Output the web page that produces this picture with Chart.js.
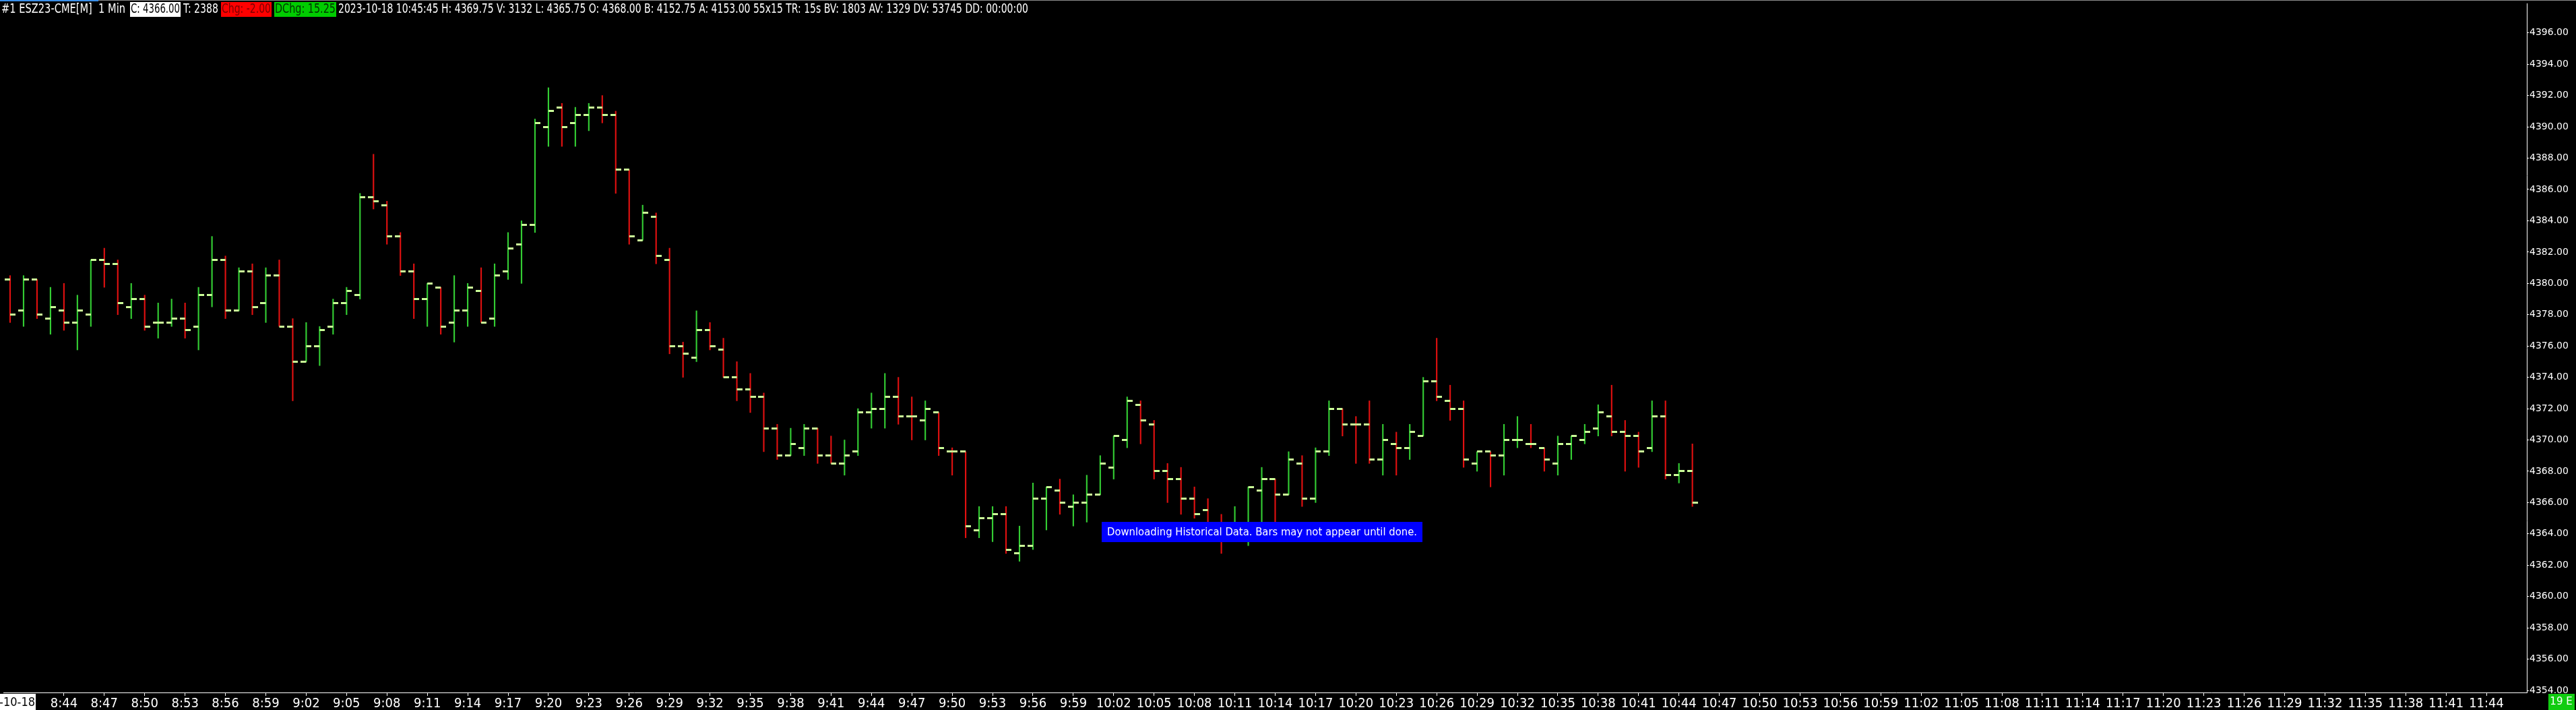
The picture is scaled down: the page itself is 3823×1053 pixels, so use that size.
<!DOCTYPE html>
<html>
<head>
<meta charset="utf-8">
<script src="https://cdn.jsdelivr.net/npm/chart.js@4.4.0/dist/chart.umd.min.js"></script>
<style>
html, body { margin: 0; padding: 0; background: #000; overflow: hidden; }
</style>
</head>
<body>
<canvas id="price-chart" width="3823" height="1053"></canvas>
<script>
// ESZ23-CME 1 min bars, 2023-10-18
var times = ['8:40','8:41','8:42','8:43','8:44','8:45','8:46','8:47','8:48','8:49',
  '8:50','8:51','8:52','8:53','8:54','8:55','8:56','8:57','8:58','8:59',
  '9:00','9:01','9:02','9:03','9:04','9:05','9:06','9:07','9:08','9:09',
  '9:10','9:11','9:12','9:13','9:14','9:15','9:16','9:17','9:18','9:19',
  '9:20','9:21','9:22','9:23','9:24','9:25','9:26','9:27','9:28','9:29',
  '9:30','9:31','9:32','9:33','9:34','9:35','9:36','9:37','9:38','9:39',
  '9:40','9:41','9:42','9:43','9:44','9:45','9:46','9:47','9:48','9:49',
  '9:50','9:51','9:52','9:53','9:54','9:55','9:56','9:57','9:58','9:59',
  '10:00','10:01','10:02','10:03','10:04','10:05','10:06','10:07','10:08','10:09',
  '10:10','10:11','10:12','10:13','10:14','10:15','10:16','10:17','10:18','10:19',
  '10:20','10:21','10:22','10:23','10:24','10:25','10:26','10:27','10:28','10:29',
  '10:30','10:31','10:32','10:33','10:34','10:35','10:36','10:37','10:38','10:39',
  '10:40','10:41','10:42','10:43','10:44','10:45'];

var open = [4380.25,4378.25,4380.25,4377.75,4378.25,4377.5,4378,4381.5,4381.25,4378.5,
  4379,4377.5,4377.5,4377.75,4377.25,4379.25,4381.5,4378.25,4380.75,4378.75,
  4380.5,4377.25,4375,4376,4377.25,4378.75,4379.25,4385.5,4385,4383,
  4380.75,4379,4379.75,4377.5,4378.25,4379.5,4377.75,4380.75,4382.5,4383.75,
  4390,4391.25,4390.25,4390.75,4391.25,4390.75,4387.25,4382.75,4384.25,4381.5,
  4376,4375.25,4377,4375.75,4374,4373.25,4372.75,4370.75,4369,4369.5,
  4370.75,4369,4368.5,4369.25,4371.75,4372,4372.75,4371.5,4371.25,4371.75,
  4369.25,4369.25,4364.25,4365,4365.25,4362.75,4363.25,4366.25,4366.75,4365.75,
  4366,4366.5,4368.25,4370,4372.25,4371,4368,4367.5,4366.25,4365.5,
  4364.25,4363.75,4364.5,4366.75,4367.5,4366.5,4368.5,4366.25,4369.25,4372,
  4371,4371,4368.75,4369.75,4369.5,4370.25,4373.75,4372.5,4372,4368.5,
  4369.25,4369,4370,4369.75,4369.5,4368.5,4369.75,4370,4370.75,4371.5,
  4370.5,4370.25,4369.5,4371.5,4367.75,4368];
var high = [4380.5,4380.5,4380.25,4379.75,4380,4379.25,4381.5,4382.25,4381.5,4380,
  4379.25,4378.75,4379,4378.75,4379.75,4383,4381.75,4381,4381.25,4381,
  4381.5,4377.75,4377.5,4377.25,4379,4379.75,4385.75,4388.25,4385.25,4383.25,
  4381.25,4380,4379.75,4380.5,4380,4381,4381.25,4383.25,4384,4390.5,
  4392.5,4391.5,4391.25,4391.5,4392,4391,4387.25,4385,4384.5,4382.25,
  4376.25,4378.25,4377.5,4376.5,4375,4374.25,4373,4371,4370.75,4371,
  4370.75,4370.25,4370,4372,4373,4374.25,4374,4372.75,4372.5,4371.75,
  4369.5,4369.25,4365.75,4365.75,4365.75,4364.5,4367.25,4367,4367.5,4366.5,
  4367.75,4369,4370.25,4372.75,4372.5,4371.25,4368.5,4368.25,4367,4366.25,
  4365.25,4365.75,4367,4368.25,4367.5,4369.25,4369,4369.5,4372.5,4372,
  4371.5,4372.5,4371,4370.5,4371,4374,4376.5,4373.5,4372.5,4369.25,
  4369.25,4371,4371.5,4371,4369.5,4370.25,4370.25,4371,4372.25,4373.5,
  4371.25,4370.5,4372.5,4372.5,4368.5,4369.75];
var low = [4377.5,4377.25,4377.75,4376.75,4377,4375.75,4377.25,4379.75,4378,4377.75,
  4377,4376.5,4377.25,4376.5,4375.75,4378.5,4377.75,4378.25,4378,4377.5,
  4377.25,4372.5,4375,4374.75,4376.75,4378,4379,4384.75,4382.5,4380.5,
  4377.75,4377.25,4376.75,4376.25,4377.25,4377.5,4377.25,4380.25,4380,4383.25,
  4388.75,4388.75,4388.75,4389.75,4390.25,4385.75,4382.5,4382.75,4381.25,4375.5,
  4374,4375,4375.75,4374,4372.5,4371.75,4369.25,4368.75,4369,4369,
  4368.5,4368.5,4367.75,4369,4370.75,4370.75,4371,4370,4370,4369,
  4367.75,4363.75,4363.75,4363.5,4362.75,4362.25,4363,4364.25,4365.25,4364.5,
  4364.75,4366.5,4367.5,4369.5,4369.75,4367.5,4366,4365.25,4365,4363.75,
  4362.75,4363.5,4363.25,4364.5,4364.75,4366.5,4365.75,4366,4369,4370.25,
  4368.5,4368.5,4367.75,4367.75,4368.75,4370.25,4372.5,4371.25,4368.25,4368,
  4367,4367.75,4369.5,4369.5,4368,4367.75,4368.75,4369.75,4370.25,4370.25,
  4368,4368.25,4369.25,4367.5,4367.25,4365.75];
var close = [4378,4380.25,4378,4378.5,4377.5,4378.25,4381.5,4381.25,4378.75,4379,
  4377.25,4377.5,4377.75,4377,4379.25,4381.5,4378.25,4380.75,4378.5,4380.5,
  4377.25,4375,4376,4377,4378.75,4379.5,4385.5,4385.25,4383,4380.75,
  4379,4380,4377.25,4378.25,4379.75,4377.5,4380.5,4382.25,4383.75,4390.25,
  4391,4390,4390.75,4391.25,4390.75,4387.25,4383,4384.5,4381.75,4376,
  4375.5,4377,4376,4374,4373.25,4372.75,4370.75,4369,4369.75,4370.75,
  4369,4368.5,4369,4371.75,4372,4372.75,4371.5,4371.5,4372,4369.5,
  4369.25,4364.5,4365,4365.25,4363,4363.25,4366.25,4367,4366,4366,
  4366.5,4368.5,4370.25,4372.5,4371.25,4368,4367.5,4366.25,4365.25,4364,
  4363.75,4364.5,4367,4367.5,4366.5,4368.75,4366.25,4369.25,4372,4371,
  4371,4368.75,4370,4369.5,4370.5,4373.75,4372.75,4372,4368.75,4369.25,
  4369,4370,4370,4369.75,4368.75,4369.75,4370.25,4370.5,4371.75,4370.5,
  4370.25,4369.25,4371.5,4367.75,4368,4366];

var tickLabels = ['8:44','8:47','8:50','8:53','8:56','8:59','9:02','9:05','9:08','9:11',
  '9:14','9:17','9:20','9:23','9:26','9:29','9:32','9:35','9:38','9:41',
  '9:44','9:47','9:50','9:53','9:56','9:59','10:02','10:05','10:08','10:11',
  '10:14','10:17','10:20','10:23','10:26','10:29','10:32','10:35','10:38','10:41',
  '10:44','10:47','10:50','10:53','10:56','10:59','11:02','11:05','11:08','11:11',
  '11:14','11:17','11:20','11:23','11:26','11:29','11:32','11:35','11:38','11:41','11:44'];

var UP = '#33cc33', DOWN = '#e01010', TICK = '#ccff99';
var narrow = "'Liberation Sans Narrow', 'DejaVu Sans Condensed', 'Arial Narrow', sans-serif";

function minuteIndex(t) {
    var p = t.split(':');
    return (+p[0]) * 60 + (+p[1]) - (8 * 60 + 40);
}

// bar colour: close vs open, ties fall back to previous close / previous colour
var colors = [];
for (var i = 0; i < times.length; i++) {
    var c;
    if (close[i] > open[i]) c = UP;
    else if (close[i] < open[i]) c = DOWN;
    else if (i > 0 && close[i] > close[i - 1]) c = UP;
    else if (i > 0 && close[i] < close[i - 1]) c = DOWN;
    else c = i > 0 ? colors[i - 1] : UP;
    colors.push(c);
}

function tickImage(side) {
    var cv = document.createElement('canvas');
    cv.width = 16; cv.height = 3;
    var g = cv.getContext('2d');
    g.fillStyle = TICK;
    g.fillRect(side === 'left' ? 0 : 8, 0, 8, 3);
    return cv;
}

var bgPlugin = {
    id: 'bg',
    beforeDraw: function (chart) {
        var ctx = chart.ctx;
        ctx.save();
        ctx.fillStyle = '#000';
        ctx.fillRect(0, 0, chart.width, chart.height);
        ctx.restore();
    },
    afterDraw: function (chart) {
        var ctx = chart.ctx;
        ctx.save();
        // top strip
        ctx.fillStyle = '#8c8c8c';
        ctx.fillRect(0, 0, chart.width, 1);
        ctx.fillStyle = '#3b8fe8';
        ctx.fillRect(0, 0, 146, 2);

        // header line
        ctx.font = '19px ' + narrow;
        ctx.textBaseline = 'middle';
        var ty = 14;
        function seg(text, x, w, bg, fg) {
            if (bg) { ctx.fillStyle = bg; ctx.fillRect(x, 3, w, 22); }
            ctx.fillStyle = fg;
            ctx.fillText(text, x + 1, ty, w - 2);
        }
        seg('#1 ESZ23-CME[M]  1 Min', 1, 186, null, '#fff');
        seg('C: 4366.00', 193, 75, '#fff', '#000');
        seg('T: 2388', 271, 54, null, '#fff');
        seg('Chg: -2.00', 328, 75, '#ff0000', '#7a0000');
        seg('DChg: 15.25', 407, 92, '#00cc00', '#003300');
        seg('2023-10-18 10:45:45 H: 4369.75 V: 3132 L: 4365.75 O: 4368.00 B: 4152.75 A: 4153.00 55x15 TR: 15s BV: 1803 AV: 1329 DV: 53745 DD: 00:00:00',
            501, 1026, null, '#fff');

        // date stamp at the left end of the time axis
        var b = chart.chartArea.bottom;
        ctx.fillStyle = '#fff';
        ctx.fillRect(0, b + 2, 53, chart.height - b - 2);
        ctx.fillStyle = '#000';
        ctx.font = '18px ' + narrow;
        ctx.textAlign = 'right';
        ctx.fillText('2023-10-18', 52, b + 15);

        // countdown box bottom right
        ctx.fillStyle = '#11cc11';
        ctx.fillRect(3782, b + 2, 39, chart.height - b - 2);
        ctx.fillStyle = '#fff';
        ctx.font = '15px "DejaVu Sans"';
        ctx.textAlign = 'center';
        ctx.fillText('19 E', 3801, b + 14);

        // status message
        ctx.fillStyle = '#0000ff';
        ctx.fillRect(1635, 774, 476, 30);
        ctx.fillStyle = '#fff';
        ctx.font = '15px "DejaVu Sans"';
        ctx.textAlign = 'left';
        ctx.fillText('Downloading Historical Data. Bars may not appear until done.', 1643, 790, 460);
        ctx.restore();
    }
};

var ctx = document.getElementById('price-chart').getContext('2d');
new Chart(ctx, {
    type: 'bar',
    data: {
        datasets: [
            {
                type: 'scatter',
                label: 'Open',
                data: times.map(function (t, i) { return { x: minuteIndex(t), y: open[i] }; }),
                pointStyle: tickImage('left'),
                order: 0
            },
            {
                type: 'scatter',
                label: 'Close',
                data: times.map(function (t, i) { return { x: minuteIndex(t), y: close[i] }; }),
                pointStyle: tickImage('right'),
                order: 0
            },
            {
                type: 'bar',
                label: 'Range',
                data: times.map(function (t, i) { return { x: minuteIndex(t), y: [low[i], high[i]] }; }),
                backgroundColor: colors,
                barThickness: 1.5,
                grouped: false,
                order: 1
            }
        ]
    },
    options: {
        responsive: false,
        animation: false,
        events: [],
        layout: { padding: 0 },
        plugins: { legend: { display: false }, tooltip: { enabled: false } },
        scales: {
            x: {
                type: 'linear',
                offset: false,
                min: -0.5,
                max: 187,
                afterFit: function (s) {
                    s.height = 26;
                    s.paddingLeft = 0; s.paddingRight = 0;
                },
                afterBuildTicks: function (s) {
                    s.ticks = tickLabels.map(function (t) { return { value: minuteIndex(t) }; });
                },
                grid: { drawOnChartArea: false, color: '#fff', tickLength: 5, offset: false },
                border: { color: '#fff' },
                ticks: {
                    autoSkip: false,
                    maxRotation: 0,
                    padding: 0,
                    color: '#fff',
                    font: { family: narrow, size: 20 },
                    callback: function (v, idx) { return tickLabels[idx]; }
                }
            },
            y: {
                position: 'right',
                min: 4353.871,
                max: 4397.886,
                afterFit: function (s) {
                    s.width = 73;
                    s.paddingTop = 0; s.paddingBottom = 0;
                },
                grid: { drawOnChartArea: false, color: '#fff', tickLength: 3 },
                border: { color: '#fff' },
                ticks: {
                    stepSize: 2,
                    includeBounds: false,
                    autoSkip: false,
                    padding: 1,
                    color: '#fff',
                    font: { family: 'DejaVu Sans', size: 14 },
                    callback: function (v) { return v.toFixed(2); }
                }
            }
        }
    },
    plugins: [bgPlugin]
});
</script>
</body>
</html>
